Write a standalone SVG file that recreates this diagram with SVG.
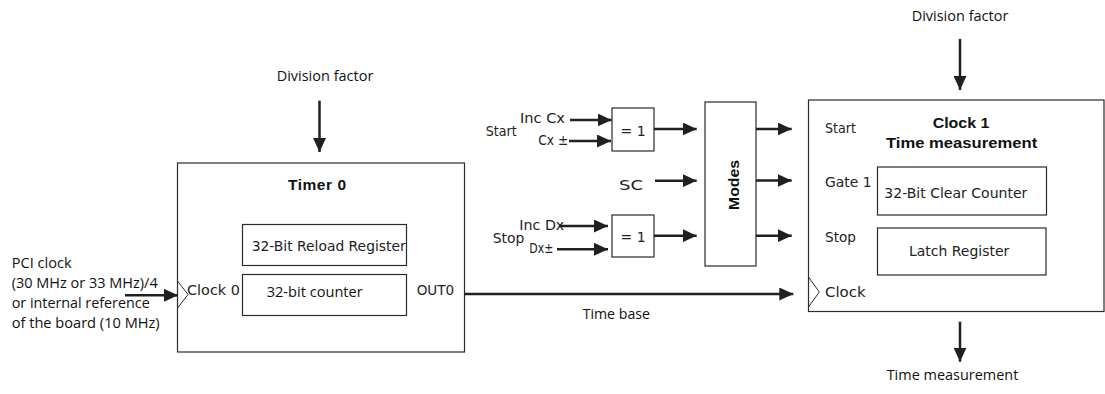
<svg xmlns="http://www.w3.org/2000/svg" width="1105" height="394" viewBox="0 0 1105 394">
  <style>
    .box { fill: #ffffff; stroke: #2b2b2b; stroke-width: 1.2; }
    .wire { fill: none; stroke: #231f20; stroke-width: 2.5; }
    .tick { fill: none; stroke: #2b2b2b; stroke-width: 1; }
    .lbl { font-family: "Open Sans", "Noto Sans", sans-serif; font-size: 15px; fill: #111; }
    .geo { font-family: "DejaVu Sans", "Liberation Sans", sans-serif; font-size: 14px; fill: #222; }
    .bold { font-family: "Liberation Sans", Arial, sans-serif; font-weight: bold; font-size: 15.5px; fill: #111; }
  </style>
  <defs>
    <marker id="arrow" markerUnits="userSpaceOnUse" markerWidth="14" markerHeight="13" refX="14" refY="6.5" orient="auto">
      <path d="M0,0 L14,6.5 L0,13 Z" fill="#231f20"/>
    </marker>
  </defs>

  <!-- Timer 0 block -->
  <g id="timer0">
    <rect class="box" x="177.5" y="163" width="287" height="189"/>
    <text class="bold" x="317" y="190" text-anchor="middle" textLength="58" lengthAdjust="spacing">Timer  0</text>
    <rect class="box" x="242.5" y="224.5" width="164" height="41"/>
    <text class="geo" x="251.7" y="250.7" textLength="154" lengthAdjust="spacingAndGlyphs">32-Bit Reload Register</text>
    <rect class="box" x="242.5" y="274.5" width="164" height="41"/>
    <text class="lbl" x="266.7" y="297" textLength="96" lengthAdjust="spacingAndGlyphs">32-bit counter</text>
    <polyline class="tick" points="177.5,281 188,294.5 177.5,308"/>
    <text class="geo" x="187" y="294.5" textLength="53" lengthAdjust="spacingAndGlyphs">Clock 0</text>
    <text class="geo" x="416.7" y="294.5" textLength="37.5" lengthAdjust="spacingAndGlyphs">OUT0</text>
  </g>

  <!-- Inputs of Timer 0 -->
  <g id="timer0-labels">
    <text class="lbl" x="325" y="81" text-anchor="middle" textLength="96.7" lengthAdjust="spacingAndGlyphs">Division factor</text>
    <text class="lbl" x="11.7" y="268.3" textLength="60" lengthAdjust="spacingAndGlyphs">PCI clock</text>
    <text class="lbl" x="11.7" y="288.3" textLength="146" lengthAdjust="spacingAndGlyphs">(30 MHz or 33 MHz)/4</text>
    <text class="lbl" x="11.7" y="308.3" textLength="138" lengthAdjust="spacingAndGlyphs">or internal reference</text>
    <text class="lbl" x="11.7" y="328.3" textLength="148" lengthAdjust="spacingAndGlyphs">of the board (10 MHz)</text>
    <text class="lbl" x="616.3" y="319.3" text-anchor="middle" textLength="67.3" lengthAdjust="spacingAndGlyphs">Time base</text>
  </g>

  <!-- Start XOR gate -->
  <g id="xor-start">
    <rect class="box" x="612" y="108" width="42" height="43"/>
    <text class="geo" x="633" y="135.7" text-anchor="middle">= 1</text>
    <text class="geo" x="485.7" y="135.7" textLength="31" lengthAdjust="spacingAndGlyphs">Start</text>
    <text class="geo" x="520" y="123.3" textLength="45" lengthAdjust="spacingAndGlyphs">Inc Cx</text>
    <text class="geo" x="538.3" y="145" textLength="30" lengthAdjust="spacingAndGlyphs">Cx ±</text>
  </g>

  <!-- Stop XOR gate -->
  <g id="xor-stop">
    <rect class="box" x="612" y="215" width="42" height="42"/>
    <text class="geo" x="633" y="241.5" text-anchor="middle">= 1</text>
    <text class="geo" x="492.7" y="243.3" textLength="31.6" lengthAdjust="spacingAndGlyphs">Stop</text>
    <text class="geo" x="519.3" y="230" textLength="45" lengthAdjust="spacingAndGlyphs">Inc Dx</text>
    <text class="geo" x="529.3" y="253.3" textLength="24" lengthAdjust="spacingAndGlyphs">Dx±</text>
  </g>

  <!-- Mode selector -->
  <g id="modes">
    <rect class="box" x="705" y="102" width="51" height="164"/>
    <text class="bold" transform="translate(738.5,185) rotate(-90)" text-anchor="middle" textLength="50" lengthAdjust="spacingAndGlyphs">Modes</text>
    <text class="geo" x="619" y="190" textLength="24" lengthAdjust="spacingAndGlyphs">SC</text>
  </g>

  <!-- Clock 1 time measurement block -->
  <g id="clock1">
    <rect class="box" x="808.5" y="100" width="295.5" height="211.5"/>
    <text class="bold" x="961" y="128.3" text-anchor="middle" textLength="56.7" lengthAdjust="spacingAndGlyphs">Clock 1</text>
    <text class="bold" x="961.6" y="148.3" text-anchor="middle" textLength="151.3" lengthAdjust="spacingAndGlyphs">Time measurement</text>
    <text class="geo" x="825" y="133.3" textLength="31" lengthAdjust="spacingAndGlyphs">Start</text>
    <text class="geo" x="825" y="186.7" textLength="46.7" lengthAdjust="spacingAndGlyphs">Gate 1</text>
    <text class="geo" x="825" y="241.7" textLength="31" lengthAdjust="spacingAndGlyphs">Stop</text>
    <text class="geo" x="825" y="296.7" textLength="40.7" lengthAdjust="spacingAndGlyphs">Clock</text>
    <rect class="box" x="877.5" y="167" width="169" height="48"/>
    <text class="geo" x="884.3" y="198.3" textLength="143" lengthAdjust="spacingAndGlyphs">32-Bit Clear Counter</text>
    <rect class="box" x="877.5" y="228" width="168.5" height="47"/>
    <text class="geo" x="909" y="256" textLength="100.3" lengthAdjust="spacingAndGlyphs">Latch Register</text>
    <polyline class="tick" points="808.5,277 819.3,292 808.5,307"/>
    <text class="lbl" x="960" y="20.7" text-anchor="middle" textLength="96.7" lengthAdjust="spacingAndGlyphs">Division factor</text>
    <text class="lbl" x="952.5" y="380" text-anchor="middle" textLength="131.7" lengthAdjust="spacingAndGlyphs">Time measurement</text>
  </g>

  <!-- Connectors -->
  <g id="connectors">
    <line class="wire" x1="319.5" y1="100.7" x2="319.5" y2="152" marker-end="url(#arrow)"/>
    <line class="wire" x1="125" y1="295.3" x2="178" y2="295.3" marker-end="url(#arrow)"/>
    <line class="wire" x1="464.5" y1="294" x2="793.3" y2="294" marker-end="url(#arrow)"/>
    <line class="wire" x1="570" y1="120" x2="611.7" y2="120" marker-end="url(#arrow)"/>
    <line class="wire" x1="569" y1="141" x2="611" y2="141" marker-end="url(#arrow)"/>
    <line class="wire" x1="654" y1="129" x2="696.7" y2="129" marker-end="url(#arrow)"/>
    <line class="wire" x1="655" y1="180.7" x2="696.7" y2="180.7" marker-end="url(#arrow)"/>
    <line class="wire" x1="559" y1="226" x2="608" y2="226" marker-end="url(#arrow)"/>
    <line class="wire" x1="557" y1="249.3" x2="608" y2="249.3" marker-end="url(#arrow)"/>
    <line class="wire" x1="654" y1="235.7" x2="696.7" y2="235.7" marker-end="url(#arrow)"/>
    <line class="wire" x1="756" y1="129" x2="791.7" y2="129" marker-end="url(#arrow)"/>
    <line class="wire" x1="756" y1="180.5" x2="791.7" y2="180.5" marker-end="url(#arrow)"/>
    <line class="wire" x1="756" y1="235.7" x2="791.7" y2="235.7" marker-end="url(#arrow)"/>
    <line class="wire" x1="960" y1="39" x2="960" y2="90" marker-end="url(#arrow)"/>
    <line class="wire" x1="960" y1="321.7" x2="960" y2="361.7" marker-end="url(#arrow)"/>
  </g>
</svg>
